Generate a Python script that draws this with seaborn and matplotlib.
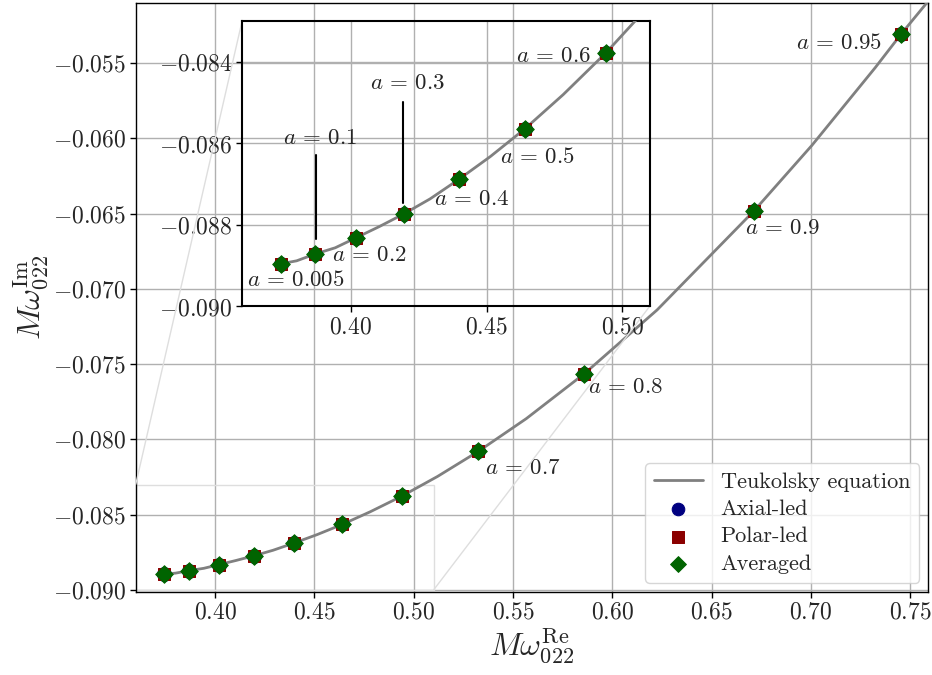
import numpy as np
import pandas as pd
import seaborn as sns
import matplotlib
matplotlib.use("Agg")
import matplotlib.pyplot as plt
from matplotlib.ticker import FuncFormatter
from mpl_toolkits.axes_grid1.inset_locator import mark_inset

# QNM points (l=2, m=2, n=0) for a set of spins
spins = [0.005, 0.1, 0.2, 0.3, 0.4, 0.5, 0.6, 0.7, 0.8, 0.9, 0.95]
w_re = [0.3743, 0.3870, 0.4021, 0.4195, 0.4398, 0.4641, 0.4940, 0.5326, 0.5860, 0.6714, 0.7455]
w_im = [-0.08896, -0.08871, -0.08831, -0.08773, -0.08688, -0.08564, -0.08377, -0.08079, -0.07563, -0.06482, -0.05308]

# Teukolsky equation curve
teuk_re = [0.3737, 0.3801, 0.3870, 0.3943, 0.4021, 0.4105, 0.4195, 0.4292, 0.4398,
           0.4514, 0.4641, 0.4782, 0.4940, 0.5120, 0.5326, 0.5567, 0.5860, 0.6226,
           0.6714, 0.7005, 0.7325, 0.7455, 0.7672]
teuk_im = [-0.08896, -0.08888, -0.08871, -0.08856, -0.08831, -0.08804, -0.08773,
           -0.08736, -0.08688, -0.08632, -0.08564, -0.08480, -0.08377, -0.08246,
           -0.08079, -0.07862, -0.07563, -0.07140, -0.06482, -0.06048, -0.05530,
           -0.05308, -0.04960]

df = pd.DataFrame({"a": spins, "re": w_re, "im": w_im})
curve = pd.DataFrame({"re": teuk_re, "im": teuk_im})

sns.set_style("whitegrid")
plt.rcParams["font.family"] = "serif"
plt.rcParams["font.serif"] = ["cmr10"]
plt.rcParams["mathtext.fontset"] = "cm"
plt.rcParams["axes.unicode_minus"] = True

fmt2 = FuncFormatter(lambda v, p: f"${v:.2f}$")
fmt3 = FuncFormatter(lambda v, p: f"${v:.3f}$")


def draw(ax, ms):
    sns.lineplot(data=curve, x="re", y="im", sort=False, color="gray", lw=2,
                 label="Teukolsky equation", ax=ax, zorder=3)
    sns.scatterplot(data=df, x="re", y="im", marker="o", color="navy", s=ms,
                    edgecolor="navy", label="Axial-led", ax=ax, zorder=4)
    sns.scatterplot(data=df, x="re", y="im", marker="s", color="darkred", s=ms * 0.8,
                    edgecolor="darkred", label="Polar-led", ax=ax, zorder=5)
    sns.scatterplot(data=df, x="re", y="im", marker="D", color="darkgreen", s=ms * 0.8,
                    edgecolor="darkgreen", label="Averaged", ax=ax, zorder=6)
    ax.set_xlabel("")
    ax.set_ylabel("")
    ax.grid(True, color="#b0b0b0", lw=1)
    for s in ax.spines.values():
        s.set_color("black")
        s.set_linewidth(1)
    ax.tick_params(direction="out", length=4, width=1, color="black", labelsize=17,
                   left=True, bottom=True, pad=3)
    ax.xaxis.set_major_formatter(fmt2)
    ax.yaxis.set_major_formatter(fmt3)


fig = plt.figure(figsize=(9.32, 6.75), dpi=100)
ax = fig.add_axes([0.1456, 0.1237, 0.8501, 0.8723])
draw(ax, 100)
ax.set_xlim(0.36, 0.759)
ax.set_ylim(-0.0901, -0.051)
ax.set_xticks([0.40, 0.45, 0.50, 0.55, 0.60, 0.65, 0.70, 0.75])
ax.set_yticks([-0.090, -0.085, -0.080, -0.075, -0.070, -0.065, -0.060, -0.055])
ax.set_xlabel(r"$M\omega_{022}^{\mathrm{Re}}$", fontsize=23, labelpad=2)
ax.set_ylabel(r"$M\omega_{022}^{\mathrm{Im}}$", fontsize=23, labelpad=2)

main_labels = {0.7: (0.5552, -0.08189), 0.8: (0.6067, -0.07652),
               0.9: (0.6859, -0.06599), 0.95: (0.7141, -0.05366)}
for a, (tx, ty) in main_labels.items():
    ax.text(tx, ty, rf"$a\,=\,{a}$", fontsize=16.5, ha="center", va="center")

ax.legend(loc="lower right", fontsize=16, framealpha=0.8, borderpad=0.4,
          handlelength=2.2, markerscale=0.9, labelspacing=0.35,
          borderaxespad=0.4)

axins = fig.add_axes([0.2597, 0.546, 0.4373, 0.4225])
draw(axins, 100)
axins.get_legend().remove()
axins.set_facecolor("none")
axins.set_xlim(0.36, 0.51)
axins.set_ylim(-0.090, -0.083)
axins.set_xticks([0.40, 0.45, 0.50])
axins.set_yticks([-0.090, -0.088, -0.086, -0.084])
for s in axins.spines.values():
    s.set_linewidth(1.5)

ins_labels = {"0.005": (0.3797, -0.08934), "0.1": (0.3886, -0.08588),
              "0.2": (0.4067, -0.08875), "0.3": (0.4208, -0.08453),
              "0.4": (0.4446, -0.08736), "0.5": (0.4686, -0.08632),
              "0.6": (0.4747, -0.08385)}
for a, (tx, ty) in ins_labels.items():
    axins.text(tx, ty, rf"$a\,=\,{a}$", fontsize=16.5, ha="center", va="center")
axins.plot([0.3871, 0.3871], [-0.08629, -0.08834], color="black", lw=1.5)
axins.plot([0.4192, 0.4192], [-0.08498, -0.08745], color="black", lw=1.5)

mark_inset(ax, axins, loc1=2, loc2=4, fc="none", ec="0.87", lw=1)

fig.savefig("out.png", dpi=100)
